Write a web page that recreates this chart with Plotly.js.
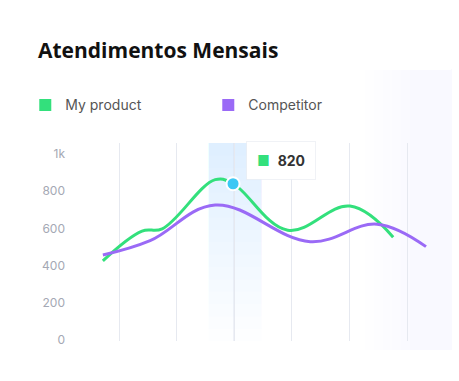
<!DOCTYPE html>
<html>
<head>
<meta charset="utf-8">
<script src="https://cdn.plot.ly/plotly-3.0.1.min.js"></script>
<style>html,body{margin:0;padding:0;background:#fff;}#chart{width:459px;height:381px;}</style>
</head>
<body>
<div id="chart"></div>
<script>
// Data
const seriesNames = ["My product", "Competitor"];
const productX = [-0.28, 0.4, 0.75, 1.67, 1.98, 2.93, 4.01, 4.76];
const productY = [426, 586, 598, 862, 840, 590, 720, 553];
const competitorX = [-0.28, 0.54, 1.67, 3.32, 4.48, 5.33];
const competitorY = [457, 534, 726, 529, 623, 502];
const highlightX = [1.98];
const highlightY = [840];
const tooltipLabel = ["820"];
const gridX = [0, 1, 2, 3, 4, 5];
const yTicks = [0, 200, 400, 600, 800, 1000];
const yTickText = ["0", "200", "400", "600", "800", "1k"];

const green = "#33e07c";
const purple = "#9a6af6";

const traces = [
  {x: productX, y: productY, mode: "lines", line: {color: green, width: 3, shape: "spline", smoothing: 1.1}, showlegend: false, hoverinfo: "skip"},
  {x: competitorX, y: competitorY, mode: "lines", line: {color: purple, width: 3, shape: "spline", smoothing: 1.1}, showlegend: false, hoverinfo: "skip"},
  {x: [null], y: [null], mode: "markers", name: seriesNames[0], marker: {symbol: "square", size: 12, color: green}},
  {x: [null], y: [null], mode: "markers", name: seriesNames[1], marker: {symbol: "square", size: 12, color: purple}},
  {x: highlightX, y: highlightY, mode: "markers", marker: {size: 13, color: "#3cc8f4", line: {color: "#ffffff", width: 2}}, showlegend: false, hoverinfo: "skip"}
];

// decorative backgrounds
const shapes = [];
const sideSteps = 6;
for (let k = 0; k < sideSteps; k++) {
  shapes.push({type: "rect", xref: "paper", yref: "paper", x0: 0.79 + k * 0.025, x1: 1.033, y0: -0.045, y1: 1.37,
    fillcolor: "rgba(240,243,250,0.07)", line: {width: 0}, layer: "below"});
}
const steps = 16;
for (let k = 1; k <= steps; k++) {
  shapes.push({type: "rect", xref: "x", yref: "paper", x0: 1.55, x1: 2.48, y0: 1 - k / steps, y1: 1,
    fillcolor: "rgba(200,220,252,0.033)", line: {width: 0}, layer: "below"});
}
shapes.push({type: "line", xref: "x", yref: "paper", x0: 2, x1: 2, y0: 0, y1: 1,
  line: {color: "#d9deea", width: 1.2}, layer: "below"});

const layout = {
  width: 459, height: 381,
  margin: {l: 80, r: 19, t: 143, b: 40},
  paper_bgcolor: "#ffffff", plot_bgcolor: "rgba(0,0,0,0)",
  font: {family: "Inter, 'Open Sans', sans-serif", color: "#555"},
  title: {text: "<b>Atendimentos Mensais</b>", x: 38 / 459, xref: "container", xanchor: "left",
    y: 1 - 51 / 381, yref: "container", yanchor: "middle",
    font: {family: "'Open Sans', sans-serif", size: 21, color: "#111"}},
  showlegend: true,
  legend: {orientation: "h", x: -0.152, xanchor: "left", y: 1.19, yanchor: "middle", bgcolor: "rgba(0,0,0,0)",
    font: {size: 14, color: "#555", family: "Inter, sans-serif"}, entrywidth: 138, entrywidthmode: "pixels",
    itemclick: false},
  xaxis: {range: [-0.677, 5.573], tickvals: gridX, showticklabels: false, showgrid: true,
    gridcolor: "#e6e9f0", gridwidth: 1, zeroline: false, showline: false, ticks: ""},
  yaxis: {range: [-5, 1059], tickvals: yTicks, ticktext: yTickText, showgrid: false, zeroline: false,
    showline: false, ticks: "", ticklabelstandoff: 14,
    tickfont: {size: 12, color: "#a4a8b4", family: "Inter, sans-serif"}},
  shapes: shapes,
  annotations: [{
    xref: "x", yref: "paper", x: 2.2, y: 0.91, xanchor: "left", yanchor: "middle",
    text: "<span style='color:" + green + "'>■</span>  <b>" + tooltipLabel[0] + "</b>",
    showarrow: false, bgcolor: "#ffffff", bordercolor: "rgba(225,229,238,0.5)", borderwidth: 1, borderpad: 10,
    font: {size: 14, color: "#333", family: "Inter, sans-serif"}
  }]
};

Plotly.newPlot("chart", traces, layout, {displayModeBar: false, staticPlot: true});
</script>
</body>
</html>
